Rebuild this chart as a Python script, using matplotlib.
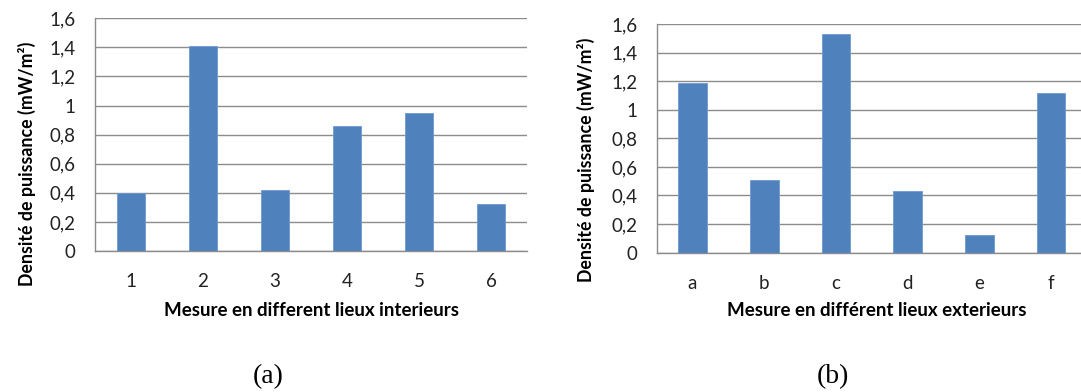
import matplotlib.pyplot as plt

# values
interieur_labels = ["1", "2", "3", "4", "5", "6"]
interieur_vals = [0.40, 1.41, 0.42, 0.86, 0.95, 0.32]

exterieur_labels = ["a", "b", "c", "d", "e", "f"]
exterieur_vals = [1.19, 0.51, 1.53, 0.43, 0.12, 1.12]

yticks = [0, 0.2, 0.4, 0.6, 0.8, 1.0, 1.2, 1.4, 1.6]
ytick_labels = ["0", "0,2", "0,4", "0,6", "0,8", "1", "1,2", "1,4", "1,6"]

BAR = "#4f81bd"
GRID = "#8c8c8c"
FONT = "Lato"

plt.rcParams["font.family"] = [FONT, "DejaVu Sans"]

W, H = 1081, 392
fig = plt.figure(figsize=(W / 100, H / 100), dpi=100)


def px_axes(left, top, right, bottom):
    return fig.add_axes([left / W, 1 - bottom / H, (right - left) / W, (bottom - top) / H])


def draw(ax, labels, vals):
    x = range(len(vals))
    ax.bar(x, vals, width=0.4, color=BAR, edgecolor="#6f9bd1", linewidth=0.6, zorder=3)
    ax.set_xlim(-0.5, len(vals) - 0.5)
    ax.set_ylim(0, 1.6)
    ax.set_yticks(yticks)
    ax.set_yticklabels(ytick_labels)
    ax.set_xticks(list(x))
    ax.set_xticklabels(labels)
    ax.yaxis.grid(True, color=GRID, linewidth=1.0, zorder=0)
    ax.set_axisbelow(True)
    for s in ["top", "right"]:
        ax.spines[s].set_visible(False)
    for s in ["left", "bottom"]:
        ax.spines[s].set_color(GRID)
        ax.spines[s].set_linewidth(1.0)
    ax.tick_params(axis="y", length=0, pad=14, labelsize=13.5, labelcolor="#222222")
    ax.tick_params(axis="x", length=0, pad=16, labelsize=13.5, labelcolor="#222222")


ax1 = px_axes(95, 18.3, 527, 251)
draw(ax1, interieur_labels, interieur_vals)

ax2 = px_axes(656.7, 24.3, 1087, 252.5)
draw(ax2, exterieur_labels, exterieur_vals)

ylab = "Densité de puissance (mW/m²)"
fig.text(27 / W, 1 - 164 / H, ylab, rotation=90, ha="center", va="center",
         fontsize=12.8, fontweight="bold")
fig.text(586 / W, 1 - 160 / H, ylab, rotation=90, ha="center", va="center",
         fontsize=12.8, fontweight="bold")

fig.text(311 / W, 1 - 310 / H, "Mesure en different lieux interieurs",
         ha="center", va="center", fontsize=13.5, fontweight="bold")
fig.text(877 / W, 1 - 311 / H, "Mesure en différent lieux exterieurs",
         ha="center", va="center", fontsize=13.5, fontweight="bold")

fig.text(268 / W, 1 - 377 / H, "(a)", ha="center", va="center",
         fontsize=20, family=["Liberation Serif", "DejaVu Serif"])
fig.text(833 / W, 1 - 377 / H, "(b)", ha="center", va="center",
         fontsize=20, family=["Liberation Serif", "DejaVu Serif"])

fig.savefig("out.png", dpi=100)
